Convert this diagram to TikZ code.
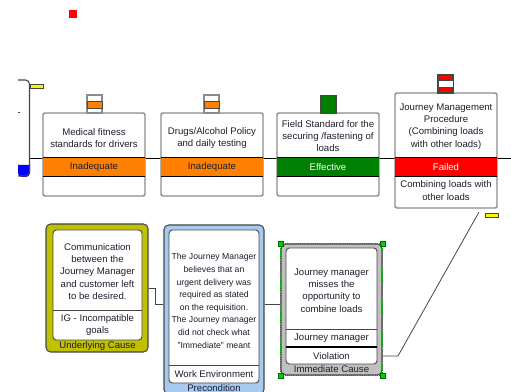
\documentclass[tikz,border=0pt]{standalone}
\usepackage{fontspec}
\setmainfont{Liberation Sans}
\definecolor{bgray}{RGB}{140,140,140}
\definecolor{dgray}{RGB}{70,70,70}
\definecolor{txt}{RGB}{30,30,45}
\definecolor{orng}{RGB}{255,128,0}
\definecolor{grn}{RGB}{0,128,0}
\definecolor{rd}{RGB}{255,0,0}
\definecolor{olv}{RGB}{192,192,0}
\definecolor{skyb}{RGB}{166,202,240}
\definecolor{lgray}{RGB}{192,192,192}
\definecolor{hgreen}{RGB}{0,210,0}
\begin{document}
\begin{tikzpicture}[x=0.75pt,y=-0.75pt,
  font=\fontsize{7.2}{9.2}\selectfont, text=txt,
  panel/.style={draw=bgray, line width=1.1pt, fill=white, rounded corners=1.5pt, inner sep=0pt, minimum width=76.5pt},
  band/.style={inner sep=0pt, minimum width=76.5pt, minimum height=13.5pt},
  bandline/.style={draw=black, line width=0.6pt},
  tab/.style={draw=bgray, fill=white, line width=0.8pt, minimum width=11.25pt, minimum height=13.5pt, inner sep=0pt},
  strip/.style={draw=dgray, line width=0.5pt, minimum width=11.25pt, minimum height=5.25pt, inner sep=0pt},
  label/.style={inner sep=0pt, align=center},
  small/.style={inner sep=0pt, align=center, font=\fontsize{6.5}{9.45}\selectfont},
  outer/.style={draw=dgray, line width=0.8pt, rounded corners=3.5pt, inner sep=0pt},
  inner/.style={draw=dgray, line width=0.7pt, fill=white, rounded corners=2.5pt, inner sep=0pt},
  divider/.style={draw=dgray, line width=0.7pt},
  conn/.style={draw=dgray, line width=0.6pt},
  handle/.style={fill=hgreen, draw=green!40!black, line width=0.3pt, minimum size=3.75pt, inner sep=0pt}
]
\useasboundingbox (0,0) rectangle (511,392);

% red marker
\node[fill=rd, minimum size=6pt, inner sep=0pt] (mark) at (72.5,14) {};

% left bracket
\coordinate (brT) at (18,80);
\coordinate (brB) at (18,176);
\fill[blue] (18,165) -- (30,165) [rounded corners=3pt] -- (30,177) -- (18,177) [sharp corners] -- cycle;
\draw[dgray, line width=0.8pt, rounded corners=3pt] (brT) -- (29.5,80) -- (29.5,176) -- (brB);
\draw[dgray, line width=0.6pt] (18,112) -- (20,112);
\node[fill=yellow, draw=dgray, line width=0.4pt, minimum width=9.75pt, minimum height=3pt, inner sep=0pt] (yl) at (36.5,86) {};

% main line
\coordinate (lineL) at (29.5,158);
\coordinate (lineR) at (511,158);
\draw[black, line width=0.6pt] (lineL) -- (lineR);

% barrier boxes
\node[panel, minimum height=62.25pt] (c1) at (94,154.5) {};
\node[panel, minimum height=62.25pt] (c2) at (212,154.5) {};
\node[panel, minimum height=62.25pt] (c3) at (328,154.5) {};
\node[panel, minimum height=86.25pt] (c4) at (446,150.5) {};

% tabs
\node[tab] (t1) at (94.5,104) {};
\node[strip, fill=orng] (s1) at (94.5,104.5) {};
\node[tab] (t2) at (211.5,104) {};
\node[strip, fill=orng] (s2) at (211.5,104.5) {};
\node[tab, fill=grn, draw=dgray] (t3) at (328.5,104.5) {};
\node[tab, fill=rd, draw=dgray] (t4) at (445.5,84) {};
\node[strip, fill=white] (s4) at (445.5,83.5) {};

% bands
\node[band, fill=orng] (b1) at (94,167) {Inadequate};
\node[band, fill=orng] (b2) at (212,167) {Inadequate};
\node[band, fill=grn, text=white] (b3) at (328,167) {Effective};
\node[band, fill=rd, text=white] (b4) at (446,167) {Failed};
\foreach \b in {b1,b2,b3,b4}{
  \draw[bandline] (\b.north west) -- (\b.north east) (\b.south west) -- (\b.south east);
}

% texts
\node[label] (l1) at (94,138) {Medical fitness\\standards for drivers};
\node[label] (l2) at (212,138) {Drugs/Alcohol Policy\\and daily testing};
\node[label] (l3) at (328,136) {Field Standard for the\\securing /fastening of\\loads};
\node[label] (l4) at (446,126.5) {Journey Management\\Procedure\\(Combining loads\\with other loads)};
\node[label] (l4b) at (446,190.5) {Combining loads with\\other loads};

% yellow marker right
\node[fill=yellow, draw=dgray, line width=0.4pt, minimum width=9.75pt, minimum height=3pt, inner sep=0pt] (yr) at (491.5,215) {};

% Underlying cause
\node[outer, fill=olv, minimum width=76.5pt, minimum height=96pt] (uc) at (97,288) {};
\node[inner, minimum width=66.75pt, minimum height=82.5pt] (uci) at (97.5,285) {};
\draw[divider] (uci.west |- 0,310) -- (uci.east |- 0,310);
\node[label] (uct) at (97.5,271.5) {Communication\\between the\\Journey Manager\\and customer left\\to be desired.};
\node[label] (ucg) at (97.5,325) {IG - Incompatible\\goals};
\node[label] (ucl) at (97.5,346.5) {Underlying Cause};

% Precondition
\node[outer, fill=skyb, minimum width=75pt, minimum height=126.75pt] (pc) at (214,309.5) {};
\node[inner, minimum width=67.5pt, minimum height=114.75pt] (pci) at (214,306.5) {};
\draw[divider] (pci.west |- 0,365) -- (pci.east |- 0,365);
\node[small] (pct) at (214,301) {The Journey Manager\\believes that an\\urgent delivery was\\required as stated\\on the requisition.\\The Journey manager\\did not check what\\"Immediate" meant};
\node[label] (pcw) at (214,374) {Work Environment};
\node[label] (pcl) at (214,388) {Precondition};

% Immediate cause
\node[outer, fill=lgray, minimum width=75.75pt, minimum height=98.25pt] (ic) at (331.5,309.5) {};
\node[inner, minimum width=68.25pt, minimum height=87pt] (ici) at (331.5,306) {};
\draw[divider] (ici.west |- 0,329) -- (ici.east |- 0,329);
\draw[draw=black, line width=1pt] (ici.west |- 0,347) -- (ici.east |- 0,347);
\node[label] (ict) at (331.5,290.5) {Journey manager\\misses the\\opportunity to\\combine loads};
\node[label] (ica) at (331.5,338) {Journey manager};
\node[label] (icv) at (331.5,356) {Violation};
\node[label] (icl) at (331.5,369.5) {Immediate Cause};
\draw[hgreen!70!black, densely dotted, line width=0.6pt] (ic.north west) rectangle (ic.south east);
\node[handle] (h1) at (ic.north west) {};
\node[handle] (h2) at (ic.north east) {};
\node[handle] (h3) at (ic.south west) {};
\node[handle] (h4) at (ic.south east) {};

% connectors
\coordinate (j1) at (155,304);
\draw[conn] (uc.east) -| (j1) -- (j1 -| pc.west);
\draw[conn] (pc.east |- j1) -- (ic.west |- j1);
\coordinate (k1) at (398,356);
\coordinate (k2) at (479,212);
\draw[conn] (ic.east |- k1) -- (k1) -- (k2);
\end{tikzpicture}
\end{document}
